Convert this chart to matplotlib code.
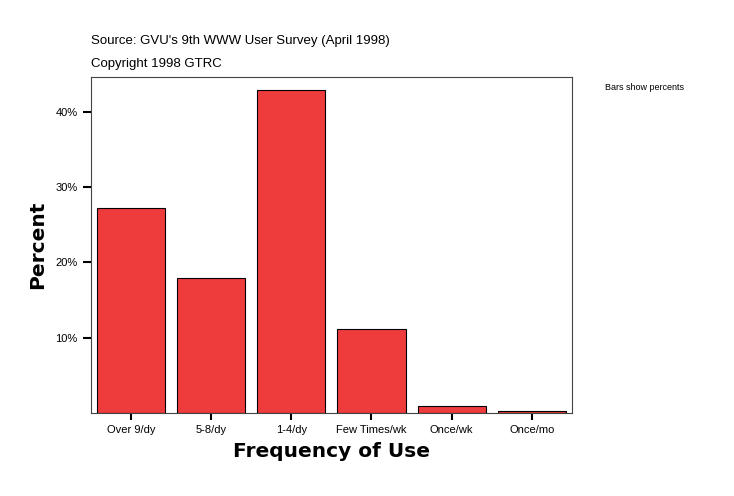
import matplotlib
matplotlib.use("Agg")
import matplotlib.pyplot as plt
from matplotlib.ticker import FuncFormatter

# values
categories = ["Over 9/dy", "5-8/dy", "1-4/dy", "Few Times/wk", "Once/wk", "Once/mo"]
percents = [27.2, 17.9, 42.8, 11.1, 0.9, 0.35]
yticks = [10, 20, 30, 40]

plt.rcParams['font.family'] = ['Liberation Sans', 'DejaVu Sans']

fig = plt.figure(figsize=(7.34, 4.96), dpi=100)
ax = fig.add_axes([0.124, 0.167, 0.655, 0.678])

x = range(len(categories))
ax.bar(x, percents, width=0.85, color='#EE3B3B', edgecolor='black', linewidth=0.8)

ax.set_xlim(-0.5, len(categories) - 0.5)
ax.set_ylim(0, 44.6)
ax.set_xticks(list(x))
ax.set_xticklabels(categories, fontsize=8)
ax.set_yticks(yticks)
ax.yaxis.set_major_formatter(FuncFormatter(lambda v, p: f"{v:.0f}%"))
ax.tick_params(axis='y', labelsize=8, length=6, width=1.5, direction='out')
ax.tick_params(axis='x', length=5, width=1.5, direction='out')

for s in ax.spines.values():
    s.set_color('#444444')
    s.set_linewidth(0.8)

ax.set_xlabel('Frequency of Use', fontsize=14.5, fontweight='heavy', family='DejaVu Sans', labelpad=5)
ax.set_ylabel('Percent', fontsize=14.5, fontweight='heavy', family='DejaVu Sans', labelpad=6)

fig.text(91 / 734, 1 - 41 / 496, "Source: GVU's 9th WWW User Survey (April 1998)",
         fontsize=9.5, va='center', ha='left')
fig.text(91 / 734, 1 - 64 / 496, "Copyright 1998 GTRC", fontsize=9.5, va='center', ha='left')
fig.text(605 / 734, 1 - 87 / 496, "Bars show percents", fontsize=6.5, va='center', ha='left')

fig.savefig('out.png', dpi=100)
